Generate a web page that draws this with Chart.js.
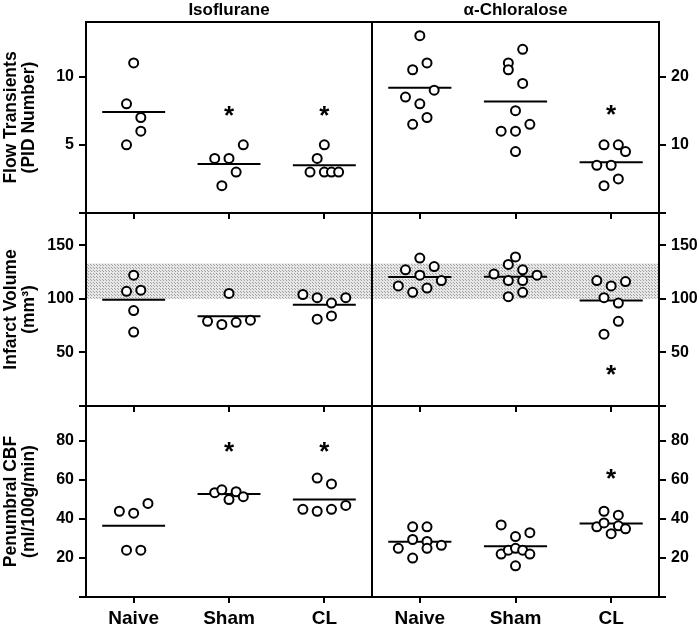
<!DOCTYPE html>
<html>
<head>
<meta charset="utf-8">
<script src="https://cdn.jsdelivr.net/npm/chart.js@4.4.1/dist/chart.umd.min.js"></script>
<style>
  body { margin: 0; background: #fff; }
  #wrap { position: relative; width: 700px; height: 625px; }
  #wrap canvas { position: absolute; left: 0; top: 0; }
</style>
</head>
<body>
<div id="wrap"></div>
<script>
// ---- data ----
const groups = ["Naive", "Sham", "CL"];
const anesthetics = ["Isoflurane", "α-Chloralose"];

// flow transients (PID number), one inner array per group
const isoFlow = [[11, 8, 7, 6, 5], [4, 4, 5, 3, 2], [5, 4, 3, 3, 3, 3]];
const chlFlow = [[26, 22, 21, 18, 17, 16, 14, 13], [24, 22, 21, 19, 15, 13, 12, 12, 9], [10, 10, 9, 7, 7, 5, 4]];
// infarct volume (mm3)
const isoInfarct = [[122, 107, 108, 89, 69], [105, 79, 76, 78, 80], [104, 101, 96, 101, 81, 84]];
const chlInfarct = [[138, 127, 130, 122, 117, 112, 110, 106], [139, 132, 127, 123, 122, 117, 117, 102, 106], [117, 116, 112, 101, 96, 79, 67]];
// penumbral CBF (ml/100g/min)
const isoCbf = [[44, 43, 48, 24, 24], [53.5, 55, 50, 54, 51.5], [61, 58, 45, 44, 45, 47]];
const chlCbf = [[36, 36, 29.5, 28.5, 25, 25, 26.5, 20], [37, 31, 33, 22, 24, 25, 24, 22, 16], [44, 42, 36, 38, 36.5, 35, 32.5]];

// side-by-side slot of each dot inside its group (negative = left)
const isoFlowSlot = [[0, -1, 1, 1, -1], [-2, 0, 2, 1, -1], [0, -1, -2, 0, 1, 2]];
const chlFlowSlot = [[0, 1, -1, 2, -2, 0, 1, -1], [1, -1, -1, 1, 0, 2, -2, 0, 0], [-1, 1, 2, -2, 0, 1, -1]];
const isoInfarctSlot = [[0, -1, 1, 0, 0], [0, -3, -1, 1, 3], [-3, -1, 1, 3, -1, 1]];
const chlInfarctSlot = [[0, -2, 2, 0, 3, -3, 1, -1], [0, -1, 1, -3, 3, -1, 1, -1, 1], [-2, 2, 0, -1, 1, 1, -1]];
const isoCbfSlot = [[-2, 0, 2, -1, 1], [-2, -1, 0, 1, 2], [-1, 1, -3, -1, 1, 3]];
const chlCbfSlot = [[-1, 1, -1, 1, -3, 1, 3, -1], [-2, 0, 2, -2, -1, 0, 1, 2, 0], [-1, 1, -2, -1, 1, 2, 0]];

// significance asterisks (value where the * sits, null = none)
const isoFlowStars = [null, 7.6, 7.6];
const chlFlowStars = [null, null, 15.3];
const isoInfarctStars = [null, null, null];
const chlInfarctStars = [null, null, 35];
const isoCbfStars = [null, 78, 78];
const chlCbfStars = [null, null, 64];

// axes
const isoFlowTicks = [0, 5, 10];
const chlFlowTicks = [0, 10, 20];
const infarctTicks = [0, 50, 100, 150];
const cbfTicks = [0, 20, 40, 60, 80];
const isoFlowMax = 14;
const chlFlowMax = 28;
const infarctMax = 180;
const cbfMax = 98;
const infarctBand = [100, 133]; // shaded reference range

const rowTitles = [
  ["Flow Transients", "(PID Number)"],
  ["Infarct Volume", "(mm³)"],
  ["Penumbral CBF", "(ml/100g/min)"]
];

// ---- layout ----
const W = 700, H = 625;
const rowTop = [22, 213, 406];
const rowBottom = [213, 406, 597];
const colLeft = [86, 372];
const colRight = [372, 659];
const SLOT = 0.075;     // x shift of one slot, in category units
const HALF_MEAN = 0.33; // half width of mean bar

Chart.defaults.font.family = '"Liberation Sans", Arial, sans-serif';
Chart.defaults.color = "#000";

// dotted fill for the reference band
function makeDots() {
  const tile = document.createElement("canvas");
  tile.width = 3; tile.height = 3;
  const t = tile.getContext("2d");
  t.fillStyle = "#e6e6e6";
  t.fillRect(0, 0, 3, 3);
  t.fillStyle = "#a0a0a0";
  t.fillRect(0, 0, 1, 1);
  t.fillRect(1, 1, 1, 1);
  return tile;
}
const dotTile = makeDots();

const panelDecor = {
  id: "panelDecor",
  beforeDatasetsDraw(chart, args, opts) {
    if (!opts.band) return;
    const { ctx, chartArea: a, scales: { y } } = chart;
    const y1 = y.getPixelForValue(opts.band[1]);
    const y0 = y.getPixelForValue(opts.band[0]);
    ctx.save();
    ctx.fillStyle = ctx.createPattern(dotTile, "repeat");
    ctx.fillRect(a.left, y1, a.right - a.left, y0 - y1);
    ctx.restore();
  },
  afterDatasetsDraw(chart, args, opts) {
    const { ctx, chartArea: a, scales: { x, y } } = chart;
    ctx.save();
    const size = 26;
    ctx.font = "bold " + size + 'px "Liberation Sans", Arial, sans-serif';
    ctx.fillStyle = "#000";
    ctx.textAlign = "center";
    ctx.textBaseline = "alphabetic";
    (opts.stars || []).forEach((s, i) => {
      if (s == null) return;
      ctx.fillText("*", x.getPixelForValue(i), y.getPixelForValue(s) + 0.56 * size);
    });
    ctx.strokeStyle = "#000";
    ctx.lineWidth = 2;
    ctx.strokeRect(a.left, a.top, a.right - a.left, a.bottom - a.top);
    ctx.restore();
  }
};

function mean(arr) {
  return arr.reduce((s, v) => s + v, 0) / arr.length;
}

function makePanel(row, col, values, slots, stars, ticks, yMax, band) {
  const canvas = document.createElement("canvas");
  canvas.width = W; canvas.height = H;
  document.getElementById("wrap").appendChild(canvas);

  const points = [];
  values.forEach((grp, gi) => {
    grp.forEach((v, k) => points.push({ x: gi + slots[gi][k] * SLOT, y: v }));
  });

  const datasets = [{
    data: points,
    pointRadius: 4.5,
    pointBorderWidth: 2,
    pointBorderColor: "#000",
    pointBackgroundColor: "#fff",
    showLine: false,
    order: 0
  }];
  values.forEach((grp, gi) => {
    const m = mean(grp);
    datasets.push({
      data: [{ x: gi - HALF_MEAN, y: m }, { x: gi + HALF_MEAN, y: m }],
      showLine: true,
      borderColor: "#000",
      borderWidth: 2,
      pointRadius: 0,
      order: 1
    });
  });

  const isLeft = col === 0;
  const xHeight = row === 2 ? 28 : 6;
  const yWidth = isLeft ? 86 : W - colRight[1];

  new Chart(canvas, {
    type: "scatter",
    data: { datasets },
    options: {
      responsive: false,
      animation: false,
      events: [],
      layout: {
        padding: {
          left: isLeft ? colLeft[0] - yWidth : colLeft[1],
          right: isLeft ? W - colRight[0] : W - colRight[1] - yWidth,
          top: row === 0 ? 0 : rowTop[row],
          bottom: H - rowBottom[row] - xHeight
        }
      },
      plugins: {
        legend: { display: false },
        tooltip: { enabled: false },
        title: {
          display: row === 0,
          text: anesthetics[col],
          fullSize: false,
          font: { size: 17, weight: "bold", lineHeight: 1.2 },
          color: "#000",
          padding: { top: 0, bottom: rowTop[0] - 17 * 1.2 }
        },
        panelDecor: { stars, band }
      },
      scales: {
        x: {
          type: "linear",
          min: -0.5,
          max: 2.5,
          afterBuildTicks: (s) => { s.ticks = groups.map((g, i) => ({ value: i })); },
          afterFit: (s) => { s.height = xHeight; },
          ticks: {
            display: row === 2,
            callback: (v) => groups[v],
            font: { size: 19, weight: "bold" },
            color: "#000",
            padding: 4,
            maxRotation: 0,
            autoSkip: false
          },
          grid: { drawOnChartArea: false, tickLength: 6, color: "#000", lineWidth: 2 },
          border: { display: false }
        },
        y: {
          type: "linear",
          position: isLeft ? "left" : "right",
          min: 0,
          max: yMax,
          afterBuildTicks: (s) => { s.ticks = ticks.map((v) => ({ value: v })); },
          afterFit: (s) => { s.width = yWidth; },
          ticks: {
            callback: (v) => (v === 0 ? "" : v),
            font: { size: 16, weight: "bold" },
            color: "#000",
            padding: 5
          },
          grid: { drawOnChartArea: false, tickLength: 7, color: "#000", lineWidth: 2 },
          border: { display: false },
          title: {
            display: isLeft,
            text: rowTitles[row],
            font: { size: 17.5, weight: "bold", lineHeight: 1.05 },
            color: "#000",
            padding: { top: 2, bottom: 0 }
          }
        }
      }
    },
    plugins: [panelDecor]
  });
}

makePanel(0, 0, isoFlow, isoFlowSlot, isoFlowStars, isoFlowTicks, isoFlowMax, null);
makePanel(0, 1, chlFlow, chlFlowSlot, chlFlowStars, chlFlowTicks, chlFlowMax, null);
makePanel(1, 0, isoInfarct, isoInfarctSlot, isoInfarctStars, infarctTicks, infarctMax, infarctBand);
makePanel(1, 1, chlInfarct, chlInfarctSlot, chlInfarctStars, infarctTicks, infarctMax, infarctBand);
makePanel(2, 0, isoCbf, isoCbfSlot, isoCbfStars, cbfTicks, cbfMax, null);
makePanel(2, 1, chlCbf, chlCbfSlot, chlCbfStars, cbfTicks, cbfMax, null);
</script>
</body>
</html>
